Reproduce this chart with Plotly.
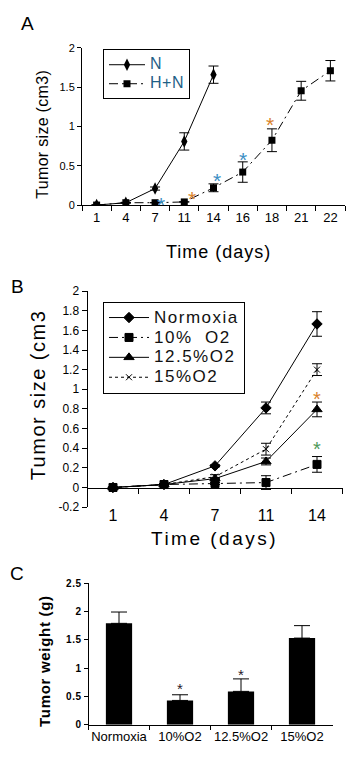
import plotly.graph_objects as go

# ---------------- data ----------------
A_DAYS = ["1", "4", "7", "11", "14", "16", "18", "21", "22"]
A_N = [0.0, 0.03, 0.21, 0.81, 1.66]
A_N_ERR = [0.0, 0.005, 0.02, 0.11, 0.11]
A_HN = [0.0, 0.03, 0.03, 0.04, 0.22, 0.42, 0.825, 1.455, 1.71]
A_HN_ERR = [0.0, 0.0, 0.0, 0.0, 0.05, 0.13, 0.145, 0.12, 0.13]
A_STAR_DAYS = ["7", "11", "14", "16", "18"]
A_STAR_Y = [0.07, 0.15, 0.38, 0.64, 1.09]
A_Y_TICKS = [0, 0.5, 1, 1.5, 2]

B_DAYS = ["1", "4", "7", "11", "14"]
B_NORM = [0.0, 0.03, 0.22, 0.81, 1.665]
B_NORM_ERR = [0.0, 0.005, 0.01, 0.06, 0.125]
B_O10 = [0.0, 0.03, 0.04, 0.05, 0.235]
B_O10_ERR = [0.0, 0.005, 0.01, 0.07, 0.08]
B_O125 = [0.0, 0.03, 0.09, 0.265, 0.795]
B_O125_ERR = [0.0, 0.005, 0.01, 0.035, 0.075]
B_O15 = [0.0, 0.03, 0.11, 0.39, 1.2]
B_O15_ERR = [0.0, 0.005, 0.02, 0.06, 0.06]
B_STAR_DAYS = ["14", "14"]
B_STAR_Y = [0.95, 0.44]
B_Y_TICKS = [-0.2, 0, 0.2, 0.4, 0.6, 0.8, 1, 1.2, 1.4, 1.6, 1.8, 2]

C_GROUPS = ["Normoxia", "10%O2", "12.5%O2", "15%O2"]
C_WEIGHT = [1.79, 0.43, 0.59, 1.53]
C_ERR = [0.2, 0.1, 0.22, 0.22]
C_STAR_GROUPS = ["10%O2", "12.5%O2"]
C_STAR_Y = [0.69, 0.94]
C_Y_TICKS = [0, 0.5, 1, 1.5, 2, 2.5]

# ---------------- helpers ----------------
W, H = 350, 776
FONT = "Arial, Liberation Sans, sans-serif"


def dx(a, b):
    return [a / W, b / W]


def dy(top, bottom):
    return [1 - bottom / H, 1 - top / H]


def sp(text, size, ls=0, bold=False):
    t = f"<span style='font-size:{size}px;letter-spacing:{ls}px'>{text}</span>"
    return f"<b>{t}</b>" if bold else t


def err(arr, w):
    return dict(type="data", array=arr, visible=True, color="black", thickness=1, width=w)


fig = go.Figure()

# ---------------- panel A ----------------
fig.add_trace(go.Scatter(
    x=A_DAYS[:len(A_N)], y=A_N, mode="lines+markers", name=sp("N", 16, 0.5),
    line=dict(color="black", width=1),
    marker=dict(symbol="diamond-tall", size=9, color="black"),
    error_y=err(A_N_ERR, 5), xaxis="x", yaxis="y", legend="legend"))
fig.add_trace(go.Scatter(
    x=A_DAYS, y=A_HN, mode="lines+markers", name=sp("H+N", 16, 0.5),
    line=dict(color="black", width=1, dash="9px,4px,2px,4px"),
    marker=dict(symbol="square", size=7, color="black"),
    error_y=err(A_HN_ERR, 5), xaxis="x", yaxis="y", legend="legend"))

# ---------------- panel B ----------------
B_SERIES = [
    ("Normoxia", B_NORM, B_NORM_ERR, "solid", "diamond", 8),
    ("10%&nbsp; O2", B_O10, B_O10_ERR, "9px,4px,2px,4px", "square", 8),
    ("12.5%O2", B_O125, B_O125_ERR, "solid", "triangle-up", 9),
    ("15%O2", B_O15, B_O15_ERR, "3px,3px", "x-thin-open", 6),
]
for name, vals, errs, dash, sym, msize in B_SERIES:
    fig.add_trace(go.Scatter(
        x=B_DAYS, y=vals, mode="lines+markers", name=sp(name, 17, 1.5),
        line=dict(color="black", width=1, dash=dash),
        marker=dict(symbol=sym, size=msize, color="black",
                    line=dict(color="black", width=1)),
        error_y=err(errs, 5), xaxis="x2", yaxis="y2", legend="legend2"))

# ---------------- panel C ----------------
fig.add_trace(go.Bar(
    x=C_GROUPS, y=C_WEIGHT, marker=dict(color="black", line=dict(width=0)),
    error_y=dict(type="data", array=C_ERR, arrayminus=[0] * len(C_ERR), symmetric=False,
                 color="black", thickness=1, width=8),
    showlegend=False, xaxis="x3", yaxis="y3"))

# ---------------- axes ----------------
axis_common = dict(showline=True, linecolor="black", linewidth=1, showgrid=False,
                   zeroline=False, ticks="outside", tickcolor="black", tickwidth=1)

fig.update_layout(
    width=W, height=H, margin=dict(l=0, r=0, t=0, b=0),
    paper_bgcolor="white", plot_bgcolor="white",
    font=dict(family=FONT, color="black"),
    bargap=0.57,
    xaxis=dict(domain=dx(82, 345), anchor="y", type="category", categoryorder="array",
               categoryarray=A_DAYS, tickson="boundaries", ticklen=5,
               range=[-0.5, len(A_DAYS) - 0.5], tickangle=0,
               tickfont=dict(size=13), **axis_common),
    yaxis=dict(domain=dy(41.7, 201.7), anchor="x", range=[0, 2], tickvals=A_Y_TICKS,
               ticktext=[f"{v:g}" for v in A_Y_TICKS], ticklen=4,
               tickfont=dict(size=11), **axis_common),
    xaxis2=dict(domain=dx(87.5, 342.5), anchor="free", position=1 - 490 / H,
                type="category", categoryorder="array", categoryarray=B_DAYS,
                tickson="boundaries", ticklen=5, range=[-0.5, len(B_DAYS) - 0.5],
                tickangle=0, tickfont=dict(size=16), ticklabelstandoff=13, **axis_common),
    yaxis2=dict(domain=dy(289.3, 509.3), anchor="x2", range=[-0.2, 2], tickvals=B_Y_TICKS,
                ticktext=[f"{v:g}" for v in B_Y_TICKS], ticklen=5,
                tickfont=dict(size=12), **axis_common),
    xaxis3=dict(domain=dx(88.5, 332.5), anchor="y3", type="category", categoryorder="array",
                categoryarray=C_GROUPS, tickson="boundaries", ticklen=4,
                range=[-0.5, len(C_GROUPS) - 0.5], tickangle=0,
                tickfont=dict(size=13), **axis_common),
    yaxis3=dict(domain=dy(586.7, 731), anchor="x3", range=[0, 2.5], tickvals=C_Y_TICKS,
                ticktext=[sp(f"{v:g}", 10, 0.5, True) for v in C_Y_TICKS], ticklen=4,
                tickfont=dict(size=10), **axis_common),
    legend=dict(x=103 / W, y=1 - 43 / H, xanchor="left", yanchor="top",
                bordercolor="black", borderwidth=1, bgcolor="white", itemwidth=36,
                font=dict(size=12, color="#1f5f87"), tracegroupgap=0),
    legend2=dict(x=103 / W, y=1 - 300 / H, xanchor="left", yanchor="top",
                 bordercolor="black", borderwidth=1, bgcolor="white", itemwidth=40,
                 font=dict(size=13, color="#111111"), tracegroupgap=0),
)

# ---------------- text annotations ----------------
ann = []


def paper_text(text, x, y, size, angle=0, color="black"):
    ann.append(dict(text=text, x=x / W, y=1 - y / H, xref="paper", yref="paper",
                    xanchor="center", yanchor="middle", showarrow=False, textangle=angle,
                    font=dict(size=size, color=color, family=FONT)))


paper_text("A", 27.5, 17, 19)
paper_text(sp("Tumor size (cm3)", 16, 0.3), 43, 130, 16, -90)
paper_text(sp("Time (days)", 18, 1), 219, 250, 18)
paper_text("B", 17.5, 285, 19)
paper_text(sp("Tumor size (cm3", 20, 1.5), 37.5, 395, 20, -90)
paper_text(sp("Time (days)", 19, 2.5), 214, 541, 19)
paper_text("C", 16.5, 577, 19)
paper_text(sp("Tumor weight (g)", 15, 0.7, True), 45, 666, 15, -90)

# category axes: annotations use the category index
A_STAR_COLORS = ["#3d8fc4", "#d9822b", "#3d8fc4", "#3d8fc4", "#d9822b"]
A_STAR_XSHIFT = [6, 8, 3, 0, -2]
for d, v, c, s in zip(A_STAR_DAYS, A_STAR_Y, A_STAR_COLORS, A_STAR_XSHIFT):
    ann.append(dict(text="*", x=A_DAYS.index(d), y=v, xref="x", yref="y", showarrow=False,
                    xshift=s, yshift=-5, font=dict(size=21, color=c, family=FONT)))
B_STAR_COLORS = ["#d9822b", "#4f9a5a"]
for d, v, c in zip(B_STAR_DAYS, B_STAR_Y, B_STAR_COLORS):
    ann.append(dict(text="*", x=B_DAYS.index(d), y=v, xref="x2", yref="y2", showarrow=False,
                    yshift=-5, font=dict(size=20, color=c, family=FONT)))
for g, v in zip(C_STAR_GROUPS, C_STAR_Y):
    ann.append(dict(text="*", x=C_GROUPS.index(g), y=v, xref="x3", yref="y3", showarrow=False,
                    yshift=-3, font=dict(size=15, color="#2a1a2a", family=FONT)))

fig.update_layout(annotations=ann)

fig.write_html("out.html", config={"displayModeBar": False},
               post_script="document.body.style.margin='0';document.body.style.padding='0';")
